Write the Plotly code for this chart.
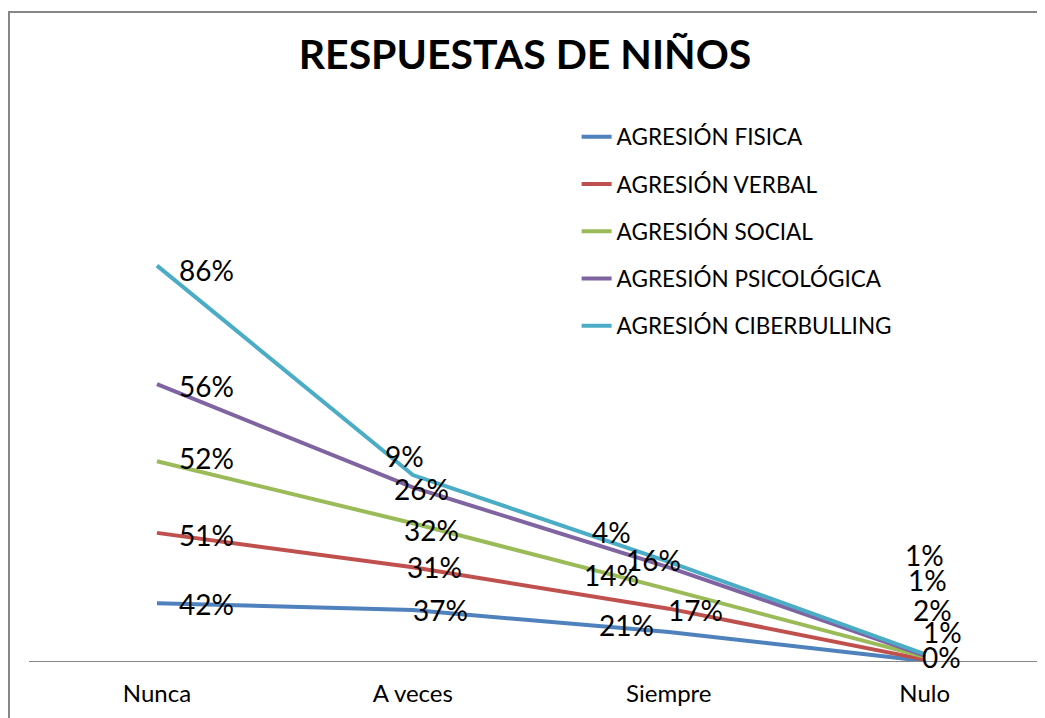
import plotly.graph_objects as go

# Datos (porcentajes por respuesta, gráfico de líneas apiladas)
categorias = ["Nunca", "A veces", "Siempre", "Nulo"]
series = ["AGRESIÓN FISICA", "AGRESIÓN VERBAL", "AGRESIÓN SOCIAL",
          "AGRESIÓN PSICOLÓGICA", "AGRESIÓN CIBERBULLING"]
fisica = [42, 37, 21, 0]
verbal = [51, 31, 17, 1]
social = [52, 32, 14, 2]
psicologica = [56, 26, 16, 1]
ciberbulling = [86, 9, 4, 1]

valores = [fisica, verbal, social, psicologica, ciberbulling]
colores = ["#4F81BD", "#C0504D", "#9BBB59", "#8064A2", "#4BACC6"]

# desplazamiento (px) de cada etiqueta respecto a su punto, como en el original
offsets = [
    [(50, 1), (28, 0), (-42, -7), (17, -4)],
    [(50, 2), (22, 0), (27, 1), (18, -28)],
    [(50, -3), (19, 7), (-57, -14), (8, -47)],
    [(50, 2), (9, 2), (-15, -7), (3, -75)],
    [(50, 4), (-8, -19), (-57, -30), (0, -99)],
]

FONT = "Lato"

# la página deja 8 px de margen arriba y a la izquierda
fig = go.Figure()
acumulado = [0] * len(categorias)
annotations = []
for nombre, vals, color, offs in zip(series, valores, colores, offsets):
    acumulado = [a + v for a, v in zip(acumulado, vals)]
    fig.add_trace(go.Scatter(x=categorias, y=acumulado, name=nombre,
                             mode="lines", legendgroup=nombre,
                             line=dict(color=color, width=4)))
    for cat, y, v, (dx, dy) in zip(categorias, acumulado, vals, offs):
        annotations.append(dict(x=cat, y=y, xref="x", yref="y",
                                text=f"{v}%", showarrow=False,
                                xanchor="center", yanchor="middle",
                                xshift=dx, yshift=-dy,
                                font=dict(family=FONT, size=28, color="black")))

fig.update_layout(
    width=1037, height=710,
    margin=dict(l=21, r=0, t=102, b=57),
    paper_bgcolor="white", plot_bgcolor="white",
    title=dict(text="<b>RESPUESTAS DE NIÑOS</b>", x=(525 - 8) / 1037, xref="container",
               y=1 - 47 / 710, yanchor="middle", xanchor="center",
               font=dict(family=FONT, size=41, color="black")),
    legend=dict(x=0.539, y=0.99, xanchor="left", yanchor="top",
                font=dict(family=FONT, size=22.5, color="black"),
                tracegroupgap=15, bgcolor="rgba(0,0,0,0)"),
    annotations=annotations,
    shapes=[dict(type="rect", xref="paper", yref="paper",
                 x0=-0.0197, x1=1.1, y0=-0.3, y1=1.178,
                 line=dict(color="#868686", width=2))],
)
fig.update_xaxes(type="category", range=[-0.5, 3.47], showgrid=False,
                 showline=True, linecolor="#868686", linewidth=1,
                 ticks="", ticklabelstandoff=11,
                 tickfont=dict(family=FONT, size=24, color="black"))
fig.update_yaxes(range=[0, 400], showgrid=False, showticklabels=False,
                 zeroline=False, showline=False)

fig.write_html("out.html")
